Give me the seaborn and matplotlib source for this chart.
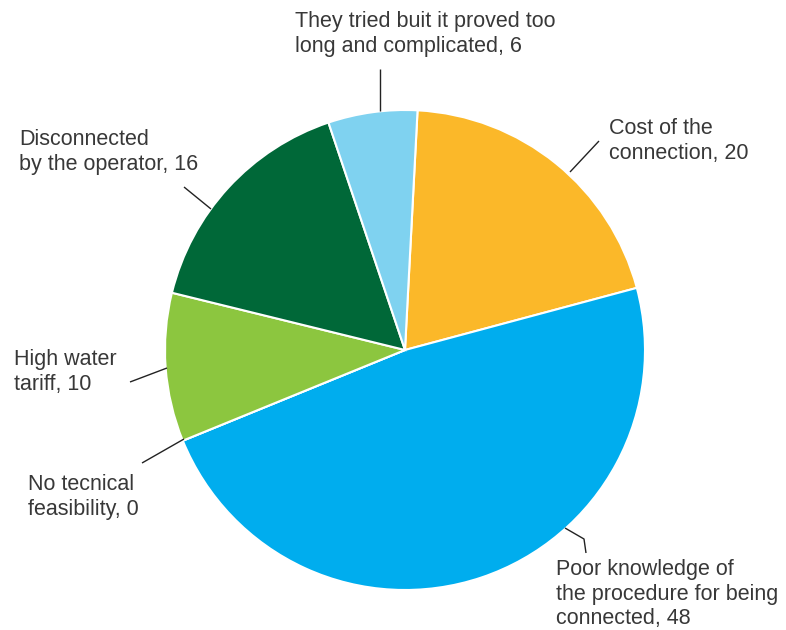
import matplotlib
matplotlib.use("Agg")
import matplotlib.pyplot as plt
import seaborn as sns

# Reasons for not being connected (counts)
categories = [
    "Cost of the\nconnection",
    "Poor knowledge of\nthe procedure for being\nconnected",
    "No tecnical\nfeasibility",
    "High water\ntariff",
    "Disconnected\nby the operator",
    "They tried buit it proved too\nlong and complicated",
]
values = [20, 48, 0, 10, 16, 6]
colors = ["#FBB829", "#00ADEE", "#00ADEE", "#8CC63F", "#006838", "#7FD2F0"]

sns.set_theme(style="white")
plt.rcParams["font.family"] = ["Liberation Sans", "DejaVu Sans"]

W, H = 786, 630
fig = plt.figure(figsize=(W / 100, H / 100), dpi=100)
ax = fig.add_axes([0, 0, 1, 1])

cx, cy, r = 405, H - 350, 240
ax.pie(values, colors=colors, startangle=87, counterclock=False,
       center=(cx, cy), radius=r, frame=True,
       wedgeprops=dict(edgecolor="white", linewidth=1.5))
ax.set_xlim(0, W)
ax.set_ylim(0, H)
ax.set_aspect("equal")
ax.axis("off")

# label text anchor (left, top) in pixel coords and leader line paths
label_pos = [(609, 118), (556, 559), (28, 474), (14, 349), (19, 129), (295, 11)]
leaders = [
    [(570, 172), (599, 141)],
    [(565, 528), (584, 539), (586, 553)],
    [(184, 439), (142, 463)],
    [(167, 368), (130, 382)],
    [(211, 209), (184, 187)],
    [(380, 111), (380, 69)],
]

for cat, val, (tx, ty), path in zip(categories, values, label_pos, leaders):
    ax.text(tx, H - ty, f"{cat}, {val}", ha="left", va="top",
            fontsize=15.5, color="#383838", linespacing=1.22)
    xs = [p[0] for p in path]
    ys = [H - p[1] for p in path]
    ax.plot(xs, ys, color="#222222", linewidth=1.0, solid_capstyle="butt")

fig.savefig("out.png", dpi=100, facecolor="white")
